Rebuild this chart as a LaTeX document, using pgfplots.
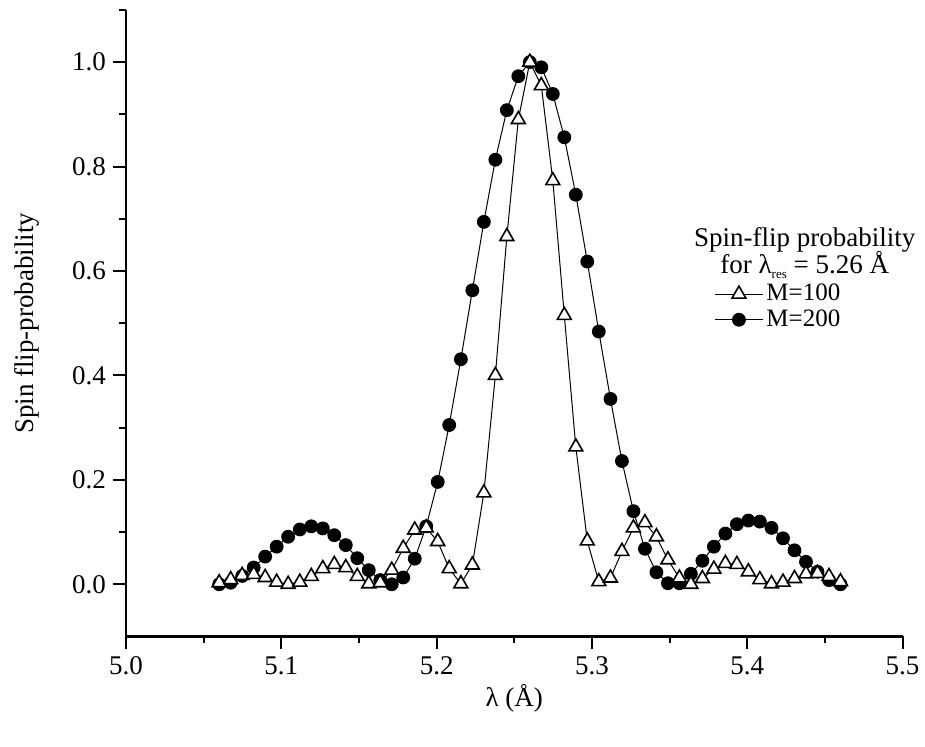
\documentclass[border=0pt]{standalone}
\usepackage{fontspec}
\setmainfont{Liberation Serif}
\usepackage{pgfplots}
\pgfplotsset{compat=1.18}
\begin{document}
\begin{tikzpicture}
\begin{axis}[
  scale only axis, width=388.3pt, height=313.3pt,
  xmin=5.0, xmax=5.5, ymin=-0.1, ymax=1.1,
  clip=false,
  font=\fontsize{13.5}{15.5}\selectfont,
  separate axis lines,
  axis x line*=bottom, axis y line*=left,
  axis line style={line width=1.3pt, -},
  xtick={5.0,5.1,5.2,5.3,5.4,5.5},
  minor xtick={5.05,5.15,5.25,5.35,5.45},
  ytick={0.0,0.2,0.4,0.6,0.8,1.0},
  minor ytick={0.1,0.3,0.5,0.7,0.9,1.1},
  tick align=outside,
  major tick length=6.5pt, minor tick length=3.5pt,
  tick style={line width=1pt, black},
  /pgf/number format/assume math mode=true,
  xticklabel style={/pgf/number format/.cd, fixed, fixed zerofill, precision=1},
  yticklabel style={/pgf/number format/.cd, fixed, fixed zerofill, precision=1},
  xlabel={λ (Å)},
  xlabel style={at={(axis description cs:0.5,-0.098)}, anchor=center},
  ylabel={Spin flip-probability},
  ylabel style={at={(axis description cs:-0.1275,0.5)}, anchor=center},
  legend style={draw=none, fill=none, at={(axis cs:5.3786,0.581)}, anchor=north west,
    column sep=0pt, row sep=0pt, inner sep=0pt, nodes={inner sep=1.5pt},
    font=\fontsize{12.5}{15.5}\selectfont},
  legend cell align=left,
  legend image code/.code={\draw[mark repeat=2,mark phase=2] plot coordinates {(0pt,0pt) (12pt,0pt) (24pt,0pt)};},
  reverse legend,
]
\addplot[black, line width=0.5pt, mark=*, mark size=3.2pt, mark options={solid, fill=black}] coordinates {
(5.0600,0.000) (5.0674,0.003) (5.0748,0.016) (5.0822,0.032) (5.0896,0.053)
(5.0970,0.072) (5.1044,0.091) (5.1119,0.105) (5.1193,0.111) (5.1267,0.107)
(5.1341,0.094) (5.1415,0.075) (5.1489,0.050) (5.1563,0.027) (5.1637,0.008)
(5.1711,0.000) (5.1785,0.013) (5.1859,0.049) (5.1933,0.111) (5.2007,0.196)
(5.2081,0.305) (5.2156,0.431) (5.2230,0.563) (5.2304,0.694) (5.2378,0.813)
(5.2452,0.908) (5.2526,0.973) (5.2600,1.000) (5.2674,0.990) (5.2748,0.939)
(5.2822,0.856) (5.2896,0.746) (5.2970,0.618) (5.3044,0.484) (5.3119,0.355)
(5.3193,0.236) (5.3267,0.140) (5.3341,0.068) (5.3415,0.023) (5.3489,0.002)
(5.3563,0.002) (5.3637,0.020) (5.3711,0.045) (5.3785,0.072) (5.3859,0.097)
(5.3933,0.115) (5.4007,0.122) (5.4081,0.120) (5.4156,0.108) (5.4230,0.088)
(5.4304,0.065) (5.4378,0.043) (5.4452,0.024) (5.4526,0.008) (5.4600,0.000)
};
\addlegendentry{M=200}
\addplot[black, line width=0.5pt, mark=triangle*, mark size=4pt, mark options={solid, fill=white, line width=0.8pt}] coordinates {
(5.0600,0.003) (5.0674,0.009) (5.0748,0.017) (5.0822,0.019) (5.0896,0.013)
(5.0970,0.004) (5.1044,0.000) (5.1119,0.004) (5.1193,0.015) (5.1267,0.030)
(5.1341,0.038) (5.1415,0.032) (5.1489,0.015) (5.1563,0.001) (5.1637,0.003)
(5.1711,0.027) (5.1785,0.069) (5.1859,0.104) (5.1933,0.108) (5.2007,0.082)
(5.2081,0.030) (5.2156,0.001) (5.2230,0.037) (5.2304,0.175) (5.2378,0.400)
(5.2452,0.666) (5.2526,0.890) (5.2600,1.000) (5.2674,0.955) (5.2748,0.773)
(5.2822,0.515) (5.2896,0.263) (5.2970,0.083) (5.3044,0.005) (5.3119,0.012)
(5.3193,0.063) (5.3267,0.108) (5.3341,0.118) (5.3415,0.091) (5.3489,0.047)
(5.3563,0.012) (5.3637,0.000) (5.3711,0.011) (5.3785,0.029) (5.3859,0.040)
(5.3933,0.038) (5.4007,0.024) (5.4081,0.009) (5.4156,0.001) (5.4230,0.004)
(5.4304,0.011) (5.4378,0.020) (5.4452,0.021) (5.4526,0.015) (5.4600,0.005)
};
\addlegendentry{M=100}
\node[inner sep=0pt, font=\fontsize{13.5}{15.5}\selectfont] at (axis cs:5.437,0.659) {Spin-flip probability};
\node[inner sep=0pt, font=\fontsize{13.5}{15.5}\selectfont] at (axis cs:5.437,0.611) {for λ\raisebox{-0.4ex}{\fontsize{6.5}{6.5}\selectfont res} = 5.26 Å};
\end{axis}
\pgfresetboundingbox
\path (-63pt,-55.25pt) rectangle (399.5pt,318.25pt);
\end{tikzpicture}
\end{document}
